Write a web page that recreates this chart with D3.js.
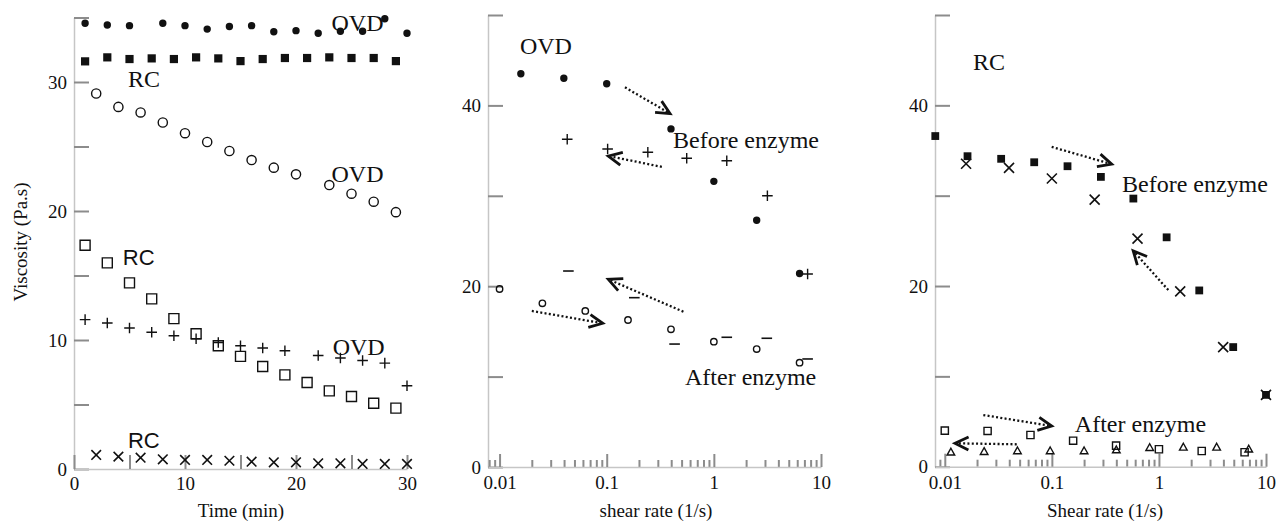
<!DOCTYPE html>
<html>
<head>
<meta charset="utf-8">
<script src="https://cdn.jsdelivr.net/npm/d3@7"></script>
<style>
  body { margin: 0; background: #fff; }
  svg { display: block; }
  .axis text { font-family: "Liberation Serif", "Times New Roman", serif; font-size: 19px; fill: #111; }
  .axis path { stroke: #c6c6c6; stroke-width: 1.5; }
  .axis line { stroke: #8c8c8c; stroke-width: 2; }
  .title { font-family: "Liberation Serif", "Times New Roman", serif; font-size: 19px; fill: #111; }
  .note { font-family: "Liberation Serif", "Times New Roman", serif; font-size: 24px; fill: #111; }
  .note.sans { font-family: "Liberation Sans", Arial, sans-serif; font-size: 22px; }
</style>
</head>
<body>
<script>
// ---- left panel: viscosity vs time (min)
var tOvdDot   = [1, 3, 5, 8, 10, 12, 14, 16, 18, 20, 22, 24, 26, 28, 30];
var vOvdDot   = [34.55, 34.42, 34.37, 34.55, 34.37, 34.1, 34.3, 34.37, 33.9, 33.98, 33.78, 33.93, 33.93, 34.9, 33.78];
var tRcSquare = [1, 3, 5, 7, 9, 11, 13, 15, 17, 19, 21, 23, 25, 27, 29];
var vRcSquare = [31.6, 31.91, 31.78, 31.83, 31.78, 31.91, 31.83, 31.62, 31.78, 31.86, 31.86, 31.91, 31.86, 31.86, 31.62];
var tOvdCircle = [2, 4, 6, 8, 10, 12, 14, 16, 18, 20, 23, 25, 27, 29];
var vOvdCircle = [29.11, 28.07, 27.64, 26.86, 26.03, 25.35, 24.65, 23.95, 23.36, 22.84, 22.01, 21.34, 20.72, 19.91];
var tRcOpenSq = [1, 3, 5, 7, 9, 11, 13, 15, 17, 19, 21, 23, 25, 27, 29];
var vRcOpenSq = [17.35, 15.98, 14.43, 13.19, 11.66, 10.49, 9.56, 8.73, 7.95, 7.3, 6.71, 6.06, 5.62, 5.1, 4.72];
var tOvdPlus  = [1, 3, 5, 7, 9, 11, 13, 15, 17, 19, 22, 24, 26, 28, 30];
var vOvdPlus  = [11.58, 11.32, 10.93, 10.6, 10.33, 10.1, 9.81, 9.56, 9.38, 9.17, 8.8, 8.6, 8.41, 8.21, 6.45];
var tRcCross  = [2, 4, 6, 8, 10, 12, 14, 16, 18, 20, 22, 24, 26, 28, 30];
var vRcCross  = [1.09, 0.96, 0.88, 0.75, 0.7, 0.7, 0.64, 0.57, 0.52, 0.52, 0.44, 0.44, 0.39, 0.39, 0.39];

// ---- middle panel: OVD viscosity vs shear rate (1/s)
var sOvdBefore = [0.0158, 0.0398, 0.1, 0.398, 1, 2.51, 6.31];
var vOvdBefore = [43.5, 43.0, 42.4, 37.4, 31.6, 27.3, 21.4];
var sOvdPlus   = [0.0428, 0.102, 0.242, 0.558, 1.32, 3.16, 7.5];
var vOvdPlus2  = [36.25, 35.18, 34.81, 34.15, 33.88, 30.0, 21.35];
var sOvdAfter  = [0.01, 0.0251, 0.0631, 0.158, 0.398, 1, 2.51, 6.31];
var vOvdAfter  = [19.69, 18.11, 17.26, 16.26, 15.23, 13.86, 13.05, 11.54];
var sOvdMinus  = [0.0439, 0.181, 0.43, 1.32, 3.12, 7.5];
var vOvdMinus  = [21.68, 18.73, 13.6, 14.35, 14.24, 11.95];

// ---- right panel: RC viscosity vs shear rate (1/s)
var sRcBefore = [0.00815, 0.0163, 0.0336, 0.0684, 0.14, 0.287, 0.577, 1.18, 2.38, 4.94, 10];
var vRcBefore = [36.6, 34.37, 34.08, 33.7, 33.26, 32.08, 29.68, 25.39, 19.51, 13.24, 7.95];
var sRcCross  = [0.0158, 0.0398, 0.1, 0.251, 0.631, 1.58, 3.98, 10];
var vRcCross2 = [33.53, 33.08, 31.9, 29.57, 25.24, 19.4, 13.24, 7.95];
var sRcAfter  = [0.01, 0.0251, 0.0631, 0.158, 0.398, 1, 2.51, 6.31];
var vRcAfter  = [3.99, 3.96, 3.51, 2.88, 2.33, 1.93, 1.74, 1.6];
var sRcTri    = [0.0114, 0.0233, 0.0477, 0.0964, 0.2, 0.4, 0.82, 1.69, 3.46, 6.9];
var vRcTri    = [1.6, 1.66, 1.74, 1.74, 1.74, 1.85, 2.1, 2.15, 2.15, 1.93];

// tick labels
var timeTicks = [0, 5, 10, 15, 20, 25, 30];
var logMajor = [0.01, 0.1, 1, 10];
var logMajorLabels = ["0.01", "0.1", "1", "10"];

// annotation arrows [x1, y1, x2, y2] in data units
var midArrows = [[0.148, 42.0, 0.39, 39.1], [0.327, 33.2, 0.1035, 34.4], [0.52, 17.18, 0.1035, 20.76], [0.02, 17.26, 0.0918, 15.9]];
var rightArrows = [[0.0996, 35.4, 0.362, 33.49], [1.223, 19.55, 0.575, 23.9], [0.0229, 5.72, 0.0996, 4.5], [0.047, 2.48, 0.01245, 2.59]];

var svg = d3.select("body").append("svg")
    .attr("width", 1286)
    .attr("height", 524);

function zip(a, b) { return a.map(function(d, i) { return [d, b[i]]; }); }

function shape(kind, h) {
  if (kind == "dot" || kind == "circle")
    return "M" + h + ",0A" + h + "," + h + " 0 1 1 " + (-h) + ",0A" + h + "," + h + " 0 1 1 " + h + ",0Z";
  if (kind == "square" || kind == "opensq")
    return "M" + (-h) + "," + (-h) + "h" + 2 * h + "v" + 2 * h + "h" + (-2 * h) + "Z";
  if (kind == "plus") return "M" + (-h) + ",0H" + h + "M0," + (-h) + "V" + h;
  if (kind == "cross") return "M" + (-h) + "," + (-h) + "L" + h + "," + h + "M" + (-h) + "," + h + "L" + h + "," + (-h);
  if (kind == "minus") return "M" + (-h) + ",0H" + h;
  if (kind == "tri") return "M0," + (-h) + "L" + (h * 0.95) + "," + (h * 0.7) + "L" + (-h * 0.95) + "," + (h * 0.7) + "Z";
}

function points(g, xs, ys, sx, sy, kind, h, sw) {
  var filled = (kind == "dot" || kind == "square");
  g.append("g").selectAll("path")
    .data(zip(xs, ys))
    .enter().append("path")
      .attr("transform", function(d) { return "translate(" + sx(d[0]) + "," + sy(d[1]) + ")"; })
      .attr("d", shape(kind, h))
      .attr("fill", filled ? "#111" : "none")
      .attr("stroke", filled ? "none" : "#111")
      .attr("stroke-width", sw || 1.4);
}

function note(g, txt, x, y, cls) {
  g.append("text").attr("class", cls || "note").attr("x", x).attr("y", y).text(txt);
}

function arrows(g, list, sx, sy) {
  list.forEach(function(a) {
    var x1 = sx(a[0]), y1 = sy(a[1]), x2 = sx(a[2]), y2 = sy(a[3]);
    var ang = Math.atan2(y2 - y1, x2 - x1), L = 15, sp = 0.45;
    g.append("line")
      .attr("x1", x1).attr("y1", y1).attr("x2", x2 - 3 * Math.cos(ang)).attr("y2", y2 - 3 * Math.sin(ang))
      .attr("stroke", "#111").attr("stroke-width", 2.3).attr("stroke-dasharray", "2,2.3");
    g.append("path")
      .attr("d", "M" + (x2 - L * Math.cos(ang - sp)) + "," + (y2 - L * Math.sin(ang - sp)) +
                 "L" + x2 + "," + y2 +
                 "L" + (x2 - L * Math.cos(ang + sp)) + "," + (y2 - L * Math.sin(ang + sp)))
      .attr("fill", "none").attr("stroke", "#111").attr("stroke-width", 2.8)
      .attr("stroke-linejoin", "miter");
  });
}

function logAxis(g, x, y0) {
  var minor = [];
  [0.001, 0.01, 0.1, 1].forEach(function(p) {
    for (var k = 2; k < 10; k++) {
      var v = +(p * k).toPrecision(3);
      if (v >= x.domain()[0] && v <= x.domain()[1]) minor.push(v);
    }
  });
  g.append("g")
    .attr("class", "axis")
    .attr("transform", "translate(0," + y0 + ")")
    .call(d3.axisBottom(x).tickValues(minor).tickSize(-7).tickSizeOuter(0).tickFormat(""))
    .call(function(s) { s.select(".domain").remove(); });
  g.append("g")
    .attr("class", "axis")
    .attr("transform", "translate(0," + y0 + ")")
    .call(d3.axisBottom(x).tickValues(logMajor).tickSize(-13).tickSizeOuter(0).tickPadding(9)
      .tickFormat(function(d, i) { return logMajorLabels[i]; }));
}

// ================= left panel
var xL = d3.scaleLinear().domain([0, 30]).range([74, 407]);
var yL = d3.scaleLinear().domain([0, 35]).range([469, 17.5]);
var gL = svg.append("g");

gL.append("g")
    .attr("class", "axis")
    .attr("transform", "translate(74,0)")
    .call(d3.axisLeft(yL).tickValues(d3.range(0, 36, 5)).tickSize(-15).tickSizeOuter(0).tickPadding(7)
      .tickFormat(function(d) { return d % 10 == 0 ? d : ""; }));
gL.append("g")
    .attr("class", "axis")
    .attr("transform", "translate(0,469)")
    .call(d3.axisBottom(xL).tickValues(timeTicks).tickSize(-14).tickSizeOuter(0).tickPadding(8)
      .tickFormat(function(d) { return d % 10 == 0 ? d : ""; }));

points(gL, tOvdDot, vOvdDot, xL, yL, "dot", 3.7);
points(gL, tRcSquare, vRcSquare, xL, yL, "square", 4.1);
points(gL, tOvdCircle, vOvdCircle, xL, yL, "circle", 4.6, 1.4);
points(gL, tRcOpenSq, vRcOpenSq, xL, yL, "opensq", 5, 1.4);
points(gL, tOvdPlus, vOvdPlus, xL, yL, "plus", 5.3, 1.4);
points(gL, tRcCross, vRcCross, xL, yL, "cross", 4.8, 1.6);

note(gL, "OVD", xL(23.2), yL(33.95));
note(gL, "RC", xL(4.86), yL(29.6));
note(gL, "OVD", xL(23.2), yL(22.27));
note(gL, "RC", xL(4.4), yL(15.8), "note sans");
note(gL, "OVD", xL(23.3), yL(8.84));
note(gL, "RC", xL(4.86), yL(1.63), "note sans");

gL.append("text").attr("class", "title")
    .attr("transform", "translate(27,242) rotate(-90)")
    .attr("text-anchor", "middle").text("Viscosity (Pa.s)");
gL.append("text").attr("class", "title")
    .attr("x", 241).attr("y", 517).attr("text-anchor", "middle").text("Time (min)");

// ================= middle panel
var xM = d3.scaleLog().domain([0.0078, 10]).range([488, 821]);
var yM = d3.scaleLinear().domain([0, 50]).range([467, 15]);
var gM = svg.append("g");

gM.append("g")
    .attr("class", "axis")
    .attr("transform", "translate(488,0)")
    .call(d3.axisLeft(yM).tickValues(d3.range(0, 51, 10)).tickSize(-15).tickSizeOuter(0).tickPadding(7)
      .tickFormat(function(d) { return d % 20 == 0 ? d : ""; }));
logAxis(gM, xM, 467);

points(gM, sOvdBefore, vOvdBefore, xM, yM, "dot", 3.7);
points(gM, sOvdPlus, vOvdPlus2, xM, yM, "plus", 5.3, 1.4);
points(gM, sOvdAfter, vOvdAfter, xM, yM, "circle", 3.2, 1.4);
points(gM, sOvdMinus, vOvdMinus, xM, yM, "minus", 5.3, 1.6);

note(gM, "OVD", xM(0.0155), yM(45.7));
note(gM, "Before enzyme", xM(0.416), yM(35.3));
note(gM, "After enzyme", xM(0.538), yM(9.07));
arrows(gM, midArrows, xM, yM);

gM.append("text").attr("class", "title")
    .attr("x", 656).attr("y", 517).attr("text-anchor", "middle").text("shear rate (1/s)");

// ================= right panel
var xR = d3.scaleLog().domain([0.0081, 10]).range([935, 1266]);
var yR = d3.scaleLinear().domain([0, 50]).range([466.7, 15]);
var gR = svg.append("g");

gR.append("g")
    .attr("class", "axis")
    .attr("transform", "translate(935,0)")
    .call(d3.axisLeft(yR).tickValues(d3.range(0, 51, 10)).tickSize(-15).tickSizeOuter(0).tickPadding(7)
      .tickFormat(function(d) { return d % 20 == 0 ? d : ""; }));
logAxis(gR, xR, 466.7);

points(gR, sRcBefore, vRcBefore, xR, yR, "square", 3.9);
points(gR, sRcCross, vRcCross2, xR, yR, "cross", 5, 1.6);
points(gR, sRcAfter, vRcAfter, xR, yR, "opensq", 3.6, 1.4);
points(gR, sRcTri, vRcTri, xR, yR, "tri", 4, 1.4);

note(gR, "RC", xR(0.0183), yR(43.9));
note(gR, "Before enzyme", xR(0.452), yR(30.4));
note(gR, "After enzyme", xR(0.164), yR(3.87));
arrows(gR, rightArrows, xR, yR);

gR.append("text").attr("class", "title")
    .attr("x", 1105).attr("y", 517).attr("text-anchor", "middle").text("Shear rate (1/s)");
</script>
</body>
</html>
